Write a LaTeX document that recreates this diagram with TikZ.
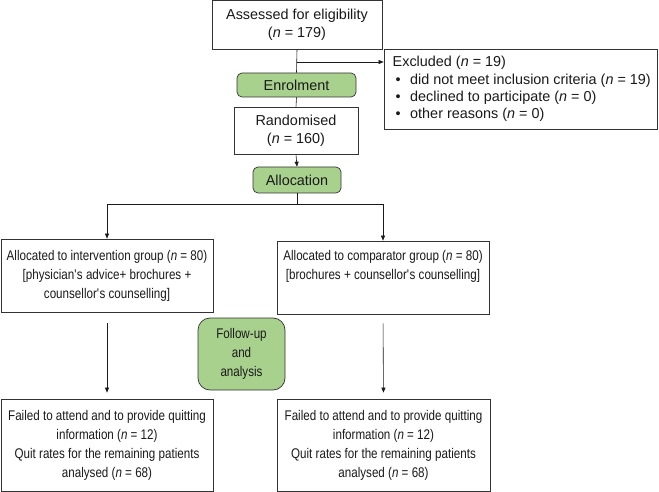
\documentclass[tikz,border=0pt]{standalone}
\usepackage{fontspec}
\setmainfont{Liberation Sans}
\newfontfamily\narrowsf[FakeStretch=0.83]{Liberation Sans}
\usetikzlibrary{arrows.meta,positioning}
\definecolor{fc-ink}{HTML}{1A1A1A}
\definecolor{fc-edge}{HTML}{333333}
\definecolor{fc-green}{HTML}{A9D18E}

\begin{document}
\begin{tikzpicture}[
  x=1pt,y=-1pt,font=\fontsize{14.4}{18}\selectfont,text=fc-ink,
  box/.style={draw=fc-edge,line width=0.7pt,fill=white,align=center,inner sep=2pt},
  stage/.style={draw=fc-edge,line width=0.7pt,fill=fc-green,rounded corners=5pt,
                align=center,inner sep=2pt},
  lower/.style={font=\narrowsf\fontsize{14}{19}\selectfont},
  ar/.style={-{Triangle[length=5pt,width=4pt]},fc-ink,line width=0.6pt},
  ln/.style={fc-ink,line width=0.6pt}
]
\useasboundingbox (0,0) rectangle (659,492);

\node[box,minimum width=273,minimum height=80,align=left,
      font=\fontsize{14.4}{17.3}\selectfont] (excl) at (520.5,89)
     {\hspace{2.5pt}Excluded (\textit{n} = 19)\\
      \makebox[20pt][l]{\hspace{5.5pt}\textbullet}did not meet inclusion criteria (\textit{n} = 19)\\
      \makebox[20pt][l]{\hspace{5.5pt}\textbullet}declined to participate (\textit{n} = 0)\\
      \makebox[20pt][l]{\hspace{5.5pt}\textbullet}other reasons (\textit{n} = 0)};
\node[box,minimum width=170,minimum height=49] (assess) at (297,24.5)
     {Assessed for eligibility\\(\textit{n} = 179)};
\node[stage,minimum width=119,minimum height=24] (enrol) at (296.5,85) {Enrolment};
\node[box,minimum width=124,minimum height=47] (rand) at (296,130.5)
     {Randomised\\(\textit{n} = 160)};
\node[stage,minimum width=88,minimum height=26] (alloc) at (297,180) {Allocation};

\node[box,lower,minimum width=212,minimum height=73] (int) at (107,275.5)
     {Allocated to intervention group (\textit{n} = 80)\\
      {[}physician\textquotesingle s advice+ brochures +\\counsellor\textquotesingle s counselling{]}};
\node[box,lower,minimum width=212,minimum height=73] (comp) at (383,277.5)
     {Allocated to comparator group (\textit{n} = 80)\\
      {[}brochures + counsellor\textquotesingle s counselling{]}\\ \strut};
\node[stage,lower,rounded corners=12pt,minimum width=87,minimum height=72] (follow) at (241.5,354)
     {Follow-up\\and\\analysis};

\node[box,lower,minimum width=212,minimum height=92] (intout) at (107,445)
     {Failed to attend and to provide quitting\\information (\textit{n} = 12)\\
      Quit rates for the remaining patients\\analysed (\textit{n} = 68)};
\node[box,lower,minimum width=213,minimum height=92] (compout) at (383.5,445)
     {Failed to attend and to provide quitting\\information (\textit{n} = 12)\\
      Quit rates for the remaining patients\\analysed (\textit{n} = 68)};

% screening
\coordinate (split) at (297,62);
\draw[ln] (assess.south) -- (enrol.north);
\draw[ar] (split) -- (split -| excl.west);
\draw[ln] (enrol.south) -- (rand.north);
\draw[ar] (rand.south) -- (alloc.north);

% allocation
\coordinate (fork) at (297,204);
\draw[ln] (alloc.south) -- (fork);
\draw[ar] (fork) -| (int.north);
\draw[ar] (fork) -| (comp.north);

% follow-up
\draw[ar,shorten <=11pt,shorten >=6pt] (int.south) -- (intout.north);
\draw[ar,shorten <=9pt,shorten >=6pt] (comp.south) -- (compout.north);

\end{tikzpicture}
\end{document}
